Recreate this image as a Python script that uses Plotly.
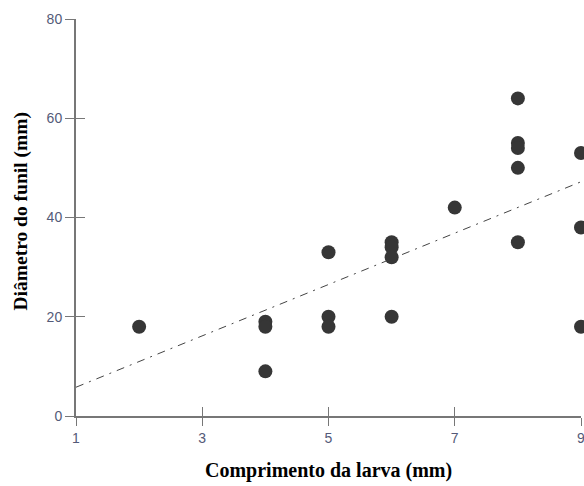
import plotly.graph_objects as go

# Data
comprimento = [2, 4, 4, 4, 5, 5, 5, 6, 6, 6, 6, 7, 8, 8, 8, 8, 8, 9, 9, 9]
diametro = [18, 19, 18, 9, 33, 20, 18, 35, 34, 32, 20, 42, 64, 55, 54, 50, 35, 53, 38, 18]
trend_x = [1, 9]
trend_y = [5.8, 47.2]
x_ticks = [1, 3, 5, 7, 9]
y_ticks = [0, 20, 40, 60, 80]
x_title = "Comprimento da larva (mm)"
y_title = "Diâmetro do funil (mm)"

axis_col = "#777777"
tick_font = dict(family="Liberation Sans, Arial, sans-serif", size=14, color="#545a78")
x_title_font = dict(family="Liberation Serif, Times New Roman, serif", size=20, color="#000000")
y_title_font = dict(family="Liberation Serif, Times New Roman, serif", size=19.5, color="#000000")

fig = go.Figure()
fig.add_trace(go.Scatter(
    x=trend_x, y=trend_y, mode="lines",
    line=dict(color="#444444", width=1, dash="8px,6px,2px,6px"),
    hoverinfo="skip", showlegend=False))
fig.add_trace(go.Scatter(
    x=comprimento, y=diametro, mode="markers",
    marker=dict(size=14, color="#363636"),
    cliponaxis=False, showlegend=False))
# invisible trace to activate overlay axes (inner half of the crossing ticks)
fig.add_trace(go.Scatter(x=[None], y=[None], xaxis="x2", yaxis="y2",
                         showlegend=False, hoverinfo="skip"))

fig.update_layout(
    width=584, height=486,
    margin=dict(l=76, r=3, t=19, b=70, autoexpand=False),
    paper_bgcolor="white", plot_bgcolor="white",
    xaxis=dict(range=[1, 9], tickvals=x_ticks, showgrid=False, zeroline=False,
               showline=True, linecolor=axis_col, linewidth=2, automargin=False,
               ticks="outside", ticklen=8, tickcolor=axis_col, tickwidth=1,
               tickfont=tick_font, ticklabeloverflow="allow"),
    yaxis=dict(range=[0, 80], tickvals=y_ticks, showgrid=False, zeroline=False,
               showline=True, linecolor=axis_col, linewidth=2, automargin=False,
               ticks="outside", ticklen=9, tickcolor=axis_col, tickwidth=1,
               tickfont=tick_font, ticklabeloverflow="allow"),
    xaxis2=dict(range=[1, 9], tickvals=x_ticks, overlaying="x", automargin=False,
                showgrid=False, zeroline=False, showticklabels=False,
                ticks="inside", ticklen=9, tickcolor=axis_col, tickwidth=1, side="bottom"),
    yaxis2=dict(range=[0, 80], tickvals=y_ticks, overlaying="y", automargin=False,
                showgrid=False, zeroline=False, showticklabels=False,
                ticks="inside", ticklen=9, tickcolor=axis_col, tickwidth=1, side="left"),
    annotations=[
        dict(text="<b>" + x_title + "</b>", xref="paper", yref="paper",
             x=0.5, y=-0.1385, xanchor="center", yanchor="middle",
             showarrow=False, font=x_title_font),
        dict(text="<b>" + y_title + "</b>", xref="paper", yref="paper",
             x=-0.109, y=0.515, xanchor="center", yanchor="middle", textangle=-90,
             showarrow=False, font=y_title_font),
    ],
)

fig.write_html("out.html", config={"displayModeBar": False},
               post_script="document.body.style.margin='0';document.body.style.padding='0';document.body.style.overflow='hidden';")
